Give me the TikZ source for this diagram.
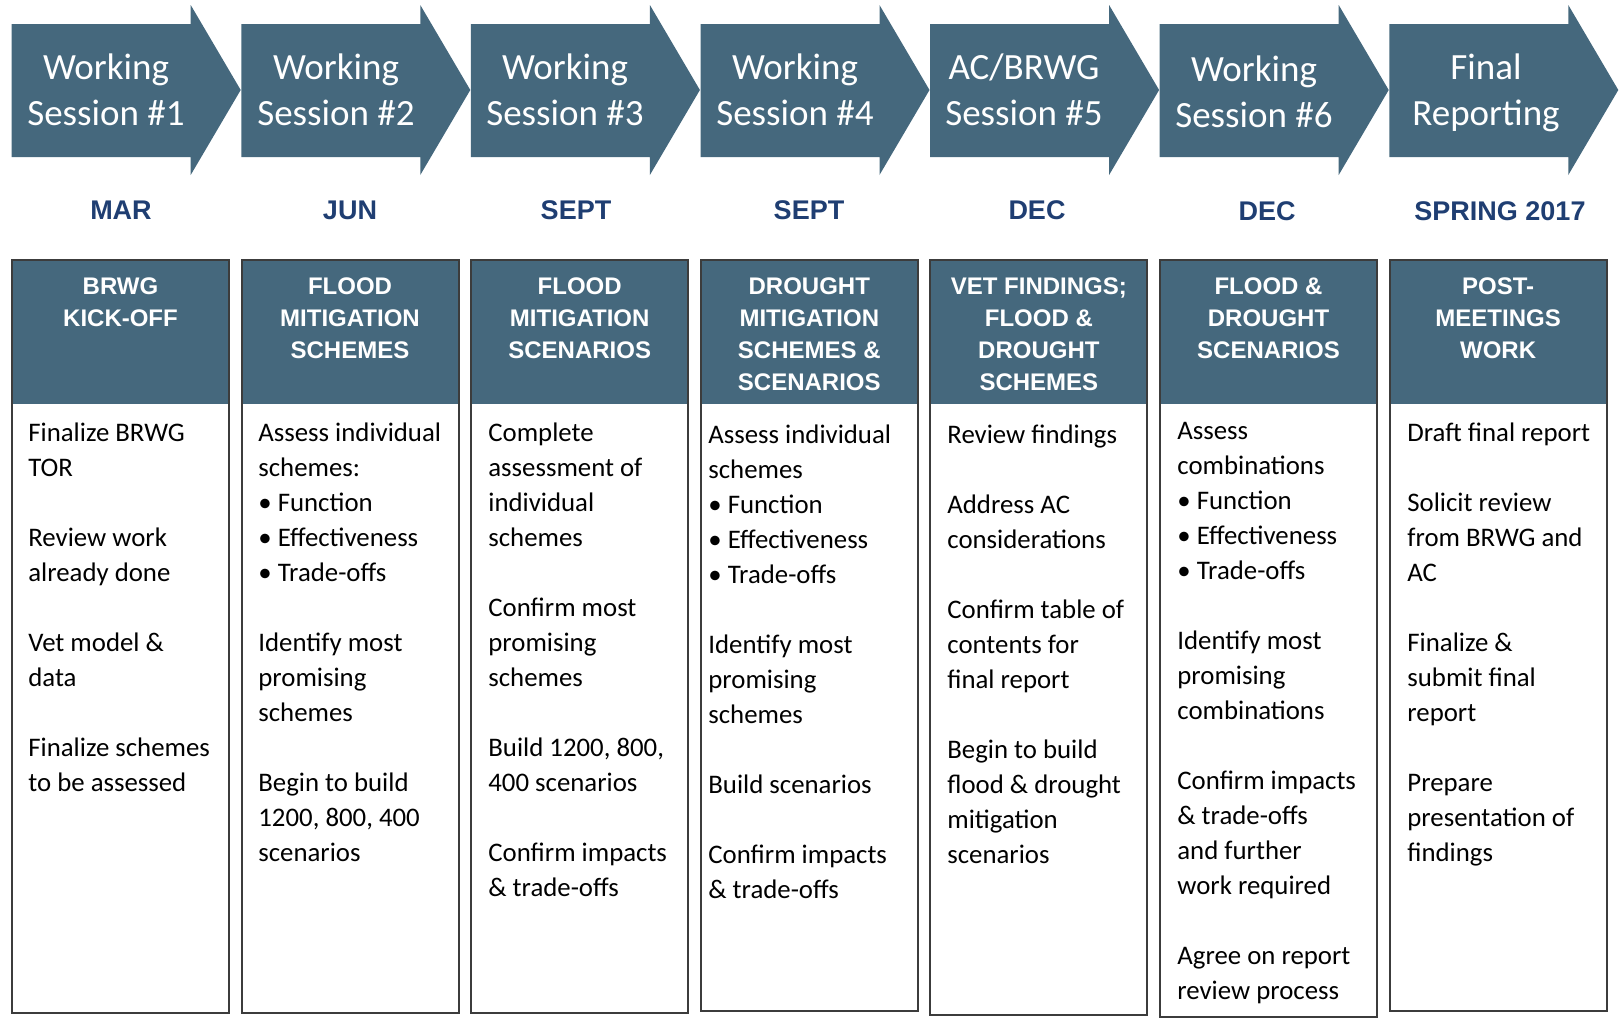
\documentclass[tikz,border=0pt]{standalone}
\usepackage{fontspec}
\setmainfont{Carlito}
\newfontfamily\headfont{Liberation Sans}

\definecolor{slate}{RGB}{69,104,125}
\definecolor{monthblue}{RGB}{31,62,114}
\definecolor{boxrule}{RGB}{60,60,60}

\begin{document}
\begin{tikzpicture}[x=0.5pt, y=-0.5pt,
stagetext/.style={text=white, align=center, inner sep=0pt, anchor=north, font=\fontsize{18.5}{23}\selectfont},
monthnode/.style={text=monthblue, inner sep=0pt, font=\headfont\bfseries\fontsize{13.5}{16}\selectfont},
headnode/.style={text=white, align=center, inner sep=0pt, anchor=north, font=\headfont\bfseries\fontsize{12}{16}\selectfont},
bodynode/.style={align=left, inner sep=0pt, anchor=north west, font=\fontsize{13.4}{17.5}\selectfont},
]
\useasboundingbox (0,0) rectangle (1624,1018);

%Arrows
\foreach \k in {0,...,6}{
  \pgfmathsetmacro\xa{11.7+229.6*\k}
  \fill[slate] (\xa,24) -- (\xa+179,24) -- (\xa+179,5) -- (\xa+229,90)
    -- (\xa+179,175) -- (\xa+179,157) -- (\xa,157) -- cycle;
}

%Boxes
\foreach \k/\bot in {0/1013,1/1013,2/1013,3/1011,4/1015,5/1017,6/1011}{
  \pgfmathsetmacro\xb{12+229.6*\k}
  \fill[slate] (\xb,260) rectangle (\xb+217,404);
  \draw[boxrule, line width=1pt] (\xb,260) rectangle (\xb+217,\bot);
}

%Arrow labels
\node[stagetext] (ws1) at (106,53)  {Working\\Session \#1};
\node[stagetext] (ws2) at (336,53)  {Working\\Session \#2};
\node[stagetext] (ws3) at (565,53)  {Working\\Session \#3};
\node[stagetext] (ws4) at (795,53)  {Working\\Session \#4};
\node[stagetext] (ws5) at (1024,53) {AC/BRWG\\Session \#5};
\node[stagetext] (ws6) at (1254,55) {Working\\Session \#6};
\node[stagetext] (fin) at (1486,53) {Final\\Reporting};

%Months
\node[monthnode] (mar)    at (121,210)  {MAR};
\node[monthnode] (jun)    at (350,210)  {JUN};
\node[monthnode] (sept)   at (576,210)  {SEPT};
\node[monthnode] (septb)  at (809,210)  {SEPT};
\node[monthnode] (dec)    at (1037,210) {DEC};
\node[monthnode] (decb)   at (1267,211) {DEC};
\node[monthnode] (spring) at (1500,211) {SPRING 2017};

%Headers
\node[headnode] (kickoff)  at (120.5,277)  {BRWG\\KICK-OFF};
\node[headnode] (floodsch) at (350,277)    {FLOOD\\MITIGATION\\SCHEMES};
\node[headnode] (floodsc)  at (579.7,277)  {FLOOD\\MITIGATION\\SCENARIOS};
\node[headnode] (drought)  at (809.3,277)  {DROUGHT\\MITIGATION\\SCHEMES \&\\SCENARIOS};
\node[headnode] (vet)      at (1038.9,277) {VET FINDINGS;\\FLOOD \&\\DROUGHT\\SCHEMES};
\node[headnode] (combo)    at (1268.5,277) {FLOOD \&\\DROUGHT\\SCENARIOS};
\node[headnode] (post)     at (1498.1,277) {POST-\\MEETINGS\\WORK};

%Tasks
\node[bodynode] (tasks1) at (28,422) {Finalize BRWG\\TOR\\[\baselineskip]Review work\\already done\\[\baselineskip]Vet model \&\\data\\[\baselineskip]Finalize schemes\\to be assessed};
\node[bodynode] (tasks2) at (258,422) {Assess individual\\schemes:\\• Function\\• Effectiveness\\• Trade-offs\\[\baselineskip]Identify most\\promising\\schemes\\[\baselineskip]Begin to build\\1200, 800, 400\\scenarios};
\node[bodynode] (tasks3) at (488,422) {Complete\\assessment of\\individual\\schemes\\[\baselineskip]Confirm most\\promising\\schemes\\[\baselineskip]Build 1200, 800,\\400 scenarios\\[\baselineskip]Confirm impacts\\\& trade-offs};
\node[bodynode] (tasks4) at (708,424) {Assess individual\\schemes\\• Function\\• Effectiveness\\• Trade-offs\\[\baselineskip]Identify most\\promising\\schemes\\[\baselineskip]Build scenarios\\[\baselineskip]Confirm impacts\\\& trade-offs};
\node[bodynode] (tasks5) at (947,424) {Review findings\\[\baselineskip]Address AC\\considerations\\[\baselineskip]Confirm table of\\contents for\\final report\\[\baselineskip]Begin to build\\flood \& drought\\mitigation\\scenarios};
\node[bodynode] (tasks6) at (1177,422) {Assess\\combinations\\• Function\\• Effectiveness\\• Trade-offs\\[\baselineskip]Identify most\\promising\\combinations\\[\baselineskip]Confirm impacts\\\& trade-offs\\and further\\work required\\[\baselineskip]Agree on report\\review process};
\node[bodynode] (tasks7) at (1407,422) {Draft final report\\[\baselineskip]Solicit review\\from BRWG and\\AC\\[\baselineskip]Finalize \&\\submit final\\report\\[\baselineskip]Prepare\\presentation of\\findings};
\end{tikzpicture}
\end{document}
